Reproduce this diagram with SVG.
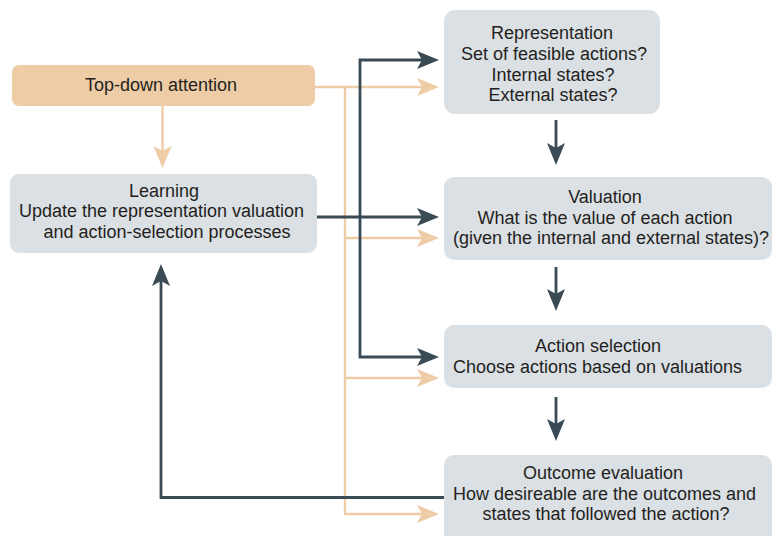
<svg xmlns="http://www.w3.org/2000/svg" width="772" height="536" viewBox="0 0 772 536">
  <style>
    .box { fill: #dbe0e4; }
    .attn { fill: #eecca6; }
    .t { font-family: "Liberation Sans", Arial, sans-serif; font-size: 18px; fill: #231f20; text-anchor: middle; }
    .dk { fill: none; stroke: #3a4b56; stroke-width: 2.8; }
    .or { fill: none; stroke: #eecca6; stroke-width: 2.4; }
  </style>
  <defs>
    <marker id="ah-dark" markerUnits="userSpaceOnUse" markerWidth="22" markerHeight="18" refX="5" refY="9" orient="auto" viewBox="0 0 22 18">
      <path d="M0,0 L22,9 L0,18 L5,9 Z" fill="#3a4b56"/>
    </marker>
    <marker id="ah-orange" markerUnits="userSpaceOnUse" markerWidth="22" markerHeight="18" refX="5" refY="9" orient="auto" viewBox="0 0 22 18">
      <path d="M0,0 L22,9 L0,18 L5,9 Z" fill="#eecca6"/>
    </marker>
  </defs>

  <!-- connectors -->
  <g id="connectors">
    <!-- attention feeds every stage -->
    <path class="or" d="M162.5,106 V151" marker-end="url(#ah-orange)"/>
    <path class="or" d="M315,87 H422" marker-end="url(#ah-orange)"/>
    <path class="or" d="M345,87 V514 H422" marker-end="url(#ah-orange)"/>
    <path class="or" d="M345,238 H422" marker-end="url(#ah-orange)"/>
    <path class="or" d="M345,378 H422" marker-end="url(#ah-orange)"/>

    <!-- learning updates the three processes -->
    <path class="dk" d="M360,200 V60 H422" marker-end="url(#ah-dark)"/>
    <path class="dk" d="M360,200 V357 H422" marker-end="url(#ah-dark)"/>
    <path class="dk" d="M315,217 H422" marker-end="url(#ah-dark)"/>

    <!-- main pipeline -->
    <path class="dk" d="M556,120 V148" marker-end="url(#ah-dark)"/>
    <path class="dk" d="M556,267 V294" marker-end="url(#ah-dark)"/>
    <path class="dk" d="M556,397 V424" marker-end="url(#ah-dark)"/>

    <!-- outcome back to learning -->
    <path class="dk" d="M445,497.5 H161 V281" marker-end="url(#ah-dark)"/>
  </g>

  <g id="top-down-attention">
    <rect class="attn" x="12" y="65" width="303" height="41" rx="7"/>
    <text class="t" x="161" y="91">Top-down attention</text>
  </g>

  <g id="learning">
    <rect class="box" x="10" y="174" width="307" height="79" rx="9"/>
    <text class="t" x="164" y="197">Learning</text>
    <text class="t" x="161.5" y="217">Update the representation valuation</text>
    <text class="t" x="167" y="238">and action-selection processes</text>
  </g>

  <g id="representation">
    <rect class="box" x="444" y="10" width="216" height="104" rx="11"/>
    <text class="t" x="552" y="39">Representation</text>
    <text class="t" x="554" y="60">Set of feasible actions?</text>
    <text class="t" x="553" y="80.5">Internal states?</text>
    <text class="t" x="553" y="101">External states?</text>
  </g>

  <g id="valuation">
    <rect class="box" x="444" y="177" width="328" height="83" rx="10"/>
    <text class="t" x="605" y="203">Valuation</text>
    <text class="t" x="605" y="223.5">What is the value of each action</text>
    <text class="t" x="611" y="244">(given the internal and external states)?</text>
  </g>

  <g id="action-selection">
    <rect class="box" x="444" y="325" width="328" height="63" rx="10"/>
    <text class="t" x="598" y="352">Action selection</text>
    <text class="t" x="597.5" y="373">Choose actions based on valuations</text>
  </g>

  <g id="outcome-evaluation">
    <rect class="box" x="444" y="455" width="328" height="90" rx="10"/>
    <text class="t" x="603" y="479">Outcome evaluation</text>
    <text class="t" x="604.5" y="499.5">How desireable are the outcomes and</text>
    <text class="t" x="606" y="520">states that followed the action?</text>
  </g>
</svg>
